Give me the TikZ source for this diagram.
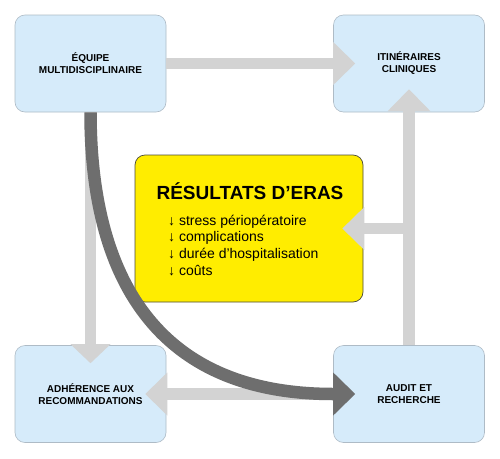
\documentclass[tikz,border=0pt]{standalone}
\usepackage{fontspec}
\setmainfont{Liberation Sans}
\usetikzlibrary{arrows.meta}
\definecolor{boxfill}{HTML}{D6EBFA}
\definecolor{boxline}{HTML}{AEBBC6}
\definecolor{resfill}{HTML}{FFED00}
\definecolor{resline}{HTML}{4A4A3A}
\definecolor{lightarr}{HTML}{D3D3D3}
\definecolor{darkarr}{HTML}{6E6E6E}
\tikzset{
  stagebox/.style={draw=boxline, line width=0.6pt, fill=boxfill, rounded corners=10pt,
    minimum width=151pt, minimum height=97pt, inner sep=0pt, align=center,
    font=\fontsize{10}{12}\selectfont\bfseries},
  resbox/.style={draw=resline, line width=0.7pt, fill=resfill, rounded corners=10pt,
    minimum width=228pt, minimum height=147pt, inner sep=0pt},
  lightconn/.style={draw=lightarr, line width=11.5pt,
    -{Triangle[width=43pt,length=22pt,line width=0pt]}},
  darkconn/.style={draw=darkarr, line width=12.5pt,
    -{Triangle[width=43pt,length=22pt,line width=0pt]}},
}
\begin{document}
\begin{tikzpicture}[x=1pt,y=-1pt]
\useasboundingbox (0,0) rectangle (500,458);
\fill[white] (0,0) rectangle (500,458);
% boxes
\node[stagebox] (tl) at (90.5,63.5) {ÉQUIPE\\MULTIDISCIPLINAIRE};
\node[stagebox] (tr) at (409,63.5) {ITINÉRAIRES\\CLINIQUES};
\node[stagebox] (bl) at (90.5,394) {ADHÉRENCE AUX\\RECOMMANDATIONS};
\node[stagebox] (br) at (409,394) {AUDIT ET\\RECHERCHE};
\node[resbox] (res) at (249,228.5) {};
\node[anchor=base, inner sep=0pt, font=\fontsize{19}{21}\selectfont\bfseries] (restitle) at (250,199) {RÉSULTATS D’ERAS};
\node[anchor=base west, inner sep=0pt, align=left, font=\fontsize{14}{16.6}\selectfont] (reslist) at (168,275)
  {↓ stress périopératoire\\↓ complications\\↓ durée d’hospitalisation\\↓ coûts};
% light connectors
\draw[lightconn] (tl.east) -- ([xshift=22pt]tr.west);
\draw[lightconn] (br.north) -- ([yshift=23pt]tr.south);
\draw[lightconn] (br.north |- res.east) -- ([xshift=-21pt]res.east);
\draw[lightconn, -{Triangle[width=40pt,length=19pt,line width=0pt]}] (tl.south) -- ([yshift=-18pt]bl.north);
\draw[lightconn] (br.west) -- ([xshift=-21pt]bl.east);
% dark connector
\draw[darkconn] (tl.south) .. controls +(0,150) and +(-210,0) .. ([xshift=22pt]br.west);
\end{tikzpicture}
\end{document}
